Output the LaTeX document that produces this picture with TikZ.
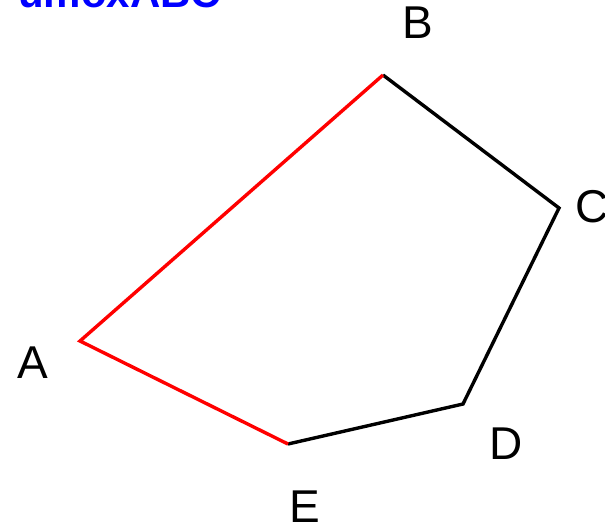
\documentclass[tikz,border=0pt]{standalone}
\usepackage{fontspec}
\setmainfont{Liberation Sans}
\begin{document}
\begin{tikzpicture}[x=1pt,y=-1pt,
  lbl/.style={inner sep=0pt, anchor=base, font=\fontsize{46}{50}\selectfont},
  edgeblack/.style={draw=black, line width=3.4pt, line join=miter},
  edgered/.style={draw=red, line width=3.4pt, line join=miter}]
\useasboundingbox (0,0) rectangle (605,523);
\coordinate (A) at (80,341);
\coordinate (B) at (383,75);
\coordinate (C) at (559,208);
\coordinate (D) at (463,404);
\coordinate (E) at (288,444);
\draw[edgeblack] (B) -- (C) -- (D) -- (E);
\draw[edgered] (B) -- (A) -- (E);
\node[lbl] (lA) at (32.5,378) {A};
\node[lbl] (lB) at (417.5,38.5) {B};
\node[lbl, anchor=base west] (lC) at (575.5,222) {C};
\node[lbl] (lD) at (506,459) {D};
\node[lbl] (lE) at (305,522) {E};
\node[lbl, anchor=base west, text=blue, font=\fontsize{42}{46}\selectfont\bfseries] (title) at (18,7.5) {umoxABC};
\end{tikzpicture}
\end{document}
